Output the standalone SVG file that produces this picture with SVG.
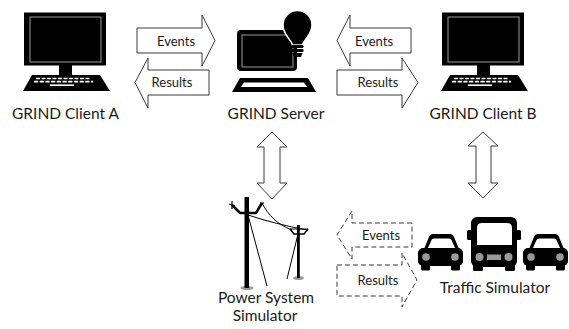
<svg xmlns="http://www.w3.org/2000/svg" width="569" height="329" viewBox="0 0 569 329">
  <style>
    .label { font-family: Lato, "Liberation Sans", sans-serif; font-size: 15.5px; fill: #1a1a1a; text-anchor: middle; }
    .tag { font-family: Lato, "Liberation Sans", sans-serif; font-size: 13px; fill: #1a1a1a; text-anchor: middle; }
    .arrow { fill: #fff; stroke: #3a3a3a; stroke-width: 1; stroke-linejoin: miter; }
    .dashed { fill: #fff; stroke: #3a3a3a; stroke-width: 1; stroke-dasharray: 5 3; }
    .ink { fill: #000; }
    .lamp { fill: #999; }
    .keys { stroke: #fff; stroke-width: 1.6; fill: none; }
    .wire { stroke: #000; fill: none; }
  </style>
  <defs>
    <!-- desktop computer icon: monitor, stand, keyboard -->
    <g id="desktop">
      <rect class="ink" x="24" y="12.5" width="82" height="53"/>
      <rect x="30" y="17" width="71" height="45" fill="#000" stroke="#9a9a9a" stroke-width="1"/>
      <rect class="ink" x="59" y="65" width="13" height="10"/>
      <polygon class="ink" points="32,75 100,75 110,91 23,91"/>
      <line class="keys" x1="36" y1="78.5" x2="90" y2="78.5" stroke-dasharray="4 1.5"/>
      <line class="keys" x1="34" y1="81.6" x2="93" y2="81.6" stroke-dasharray="4.2 1.5"/>
      <line class="keys" x1="50" y1="85.2" x2="74" y2="85.2"/>
    </g>
    <!-- small car silhouette -->
    <g id="car">
      <path class="ink" d="M424,249 L429,237 Q430,234 433,234 L450,234 Q453,234 454,237 L459,249 Z"/>
      <path fill="#fff" d="M427.5,249 L431.5,240 Q432.2,238.5 434,238.5 L449,238.5 Q450.8,238.5 451.5,240 L455.5,249 Z"/>
      <rect class="ink" x="418" y="248" width="45" height="18" rx="5"/>
      <rect class="ink" x="421" y="264" width="9" height="6.5" rx="1.5"/>
      <rect class="ink" x="451" y="264" width="9" height="6.5" rx="1.5"/>
      <circle class="lamp" cx="426" cy="257" r="3.8"/>
      <circle class="lamp" cx="455" cy="257" r="3.8"/>
    </g>
  </defs>

  <g id="client-a">
    <use href="#desktop"/>
    <text class="label" x="65.5" y="119">GRIND Client A</text>
  </g>

  <g id="client-b">
    <use href="#desktop" transform="translate(418,0)"/>
    <text class="label" x="483" y="119">GRIND Client B</text>
  </g>

  <g id="server">
    <!-- laptop screen -->
    <rect class="ink" x="237" y="30" width="60" height="41" rx="4"/>
    <rect x="242" y="35" width="51" height="32" fill="#000" stroke="#9a9a9a" stroke-width="1"/>
    <!-- laptop base -->
    <polygon class="ink" points="240,78 308,78 316,92 232,92"/>
    <polygon fill="#fff" points="244,82.5 304,82.5 307,87 241,87"/>
    <!-- light bulb -->
    <path class="ink" stroke="#fff" stroke-width="1.5" d="M292.5,45 C291,39 283,35 283,25 A14.5,14.5 0 0 1 312,25 C312,35 304,39 302.5,45 Z"/>
    <rect class="ink" x="291.5" y="45" width="12" height="3" rx="1"/>
    <rect class="ink" x="291.5" y="49" width="12" height="3" rx="1"/>
    <path class="ink" d="M292.5,53 L302.5,53 L301,57 L294,57 Z"/>
    <text class="label" x="276" y="119">GRIND Server</text>
  </g>

  <g id="power-sim">
    <!-- main pole -->
    <ellipse class="lamp" cx="247" cy="288" rx="6.5" ry="2"/>
    <rect class="ink" x="244.5" y="197" width="4.5" height="91"/>
    <polyline class="wire" stroke-width="2.5" points="232,205 240,213 256,213 262,203"/>
    <path class="wire" stroke-width="1.2" d="M229,204 L235,206 M232,201 L232,209 M260,203 L264,203"/>
    <!-- second pole -->
    <ellipse class="lamp" cx="298.5" cy="278" rx="5.5" ry="2"/>
    <rect class="ink" x="297" y="225" width="2.8" height="53"/>
    <polyline class="wire" stroke-width="1.6" points="290,229 294,234 304,234 308,229"/>
    <line class="wire" stroke-width="1" x1="290" y1="229" x2="308" y2="229"/>
    <!-- conductors and guy wires -->
    <path class="wire" stroke-width="1" d="M262,203 C268,215 278,225 292,230"/>
    <path class="wire" stroke-width="1" d="M248,215 Q275,224 307,230"/>
    <line class="wire" stroke-width="1" x1="248" y1="215" x2="267" y2="286"/>
    <line class="wire" stroke-width="1" x1="298" y1="234" x2="287" y2="279"/>
    <text class="label" x="266" y="303">Power System</text>
    <text class="label" x="265" y="321">Simulator</text>
  </g>

  <g id="traffic-sim">
    <use href="#car"/>
    <use href="#car" transform="translate(105,0)"/>
    <!-- bus -->
    <rect class="ink" x="467" y="230" width="5" height="10" rx="1.5"/>
    <rect class="ink" x="516" y="230" width="5" height="10" rx="1.5"/>
    <rect class="ink" x="471" y="217" width="46" height="50" rx="6"/>
    <path fill="#fff" d="M477,245 L477,228 Q477,223 482,223 L507,223 Q512,223 512,228 L512,245 Z"/>
    <rect class="ink" x="473" y="264" width="10" height="7" rx="1.5"/>
    <rect class="ink" x="505" y="264" width="10" height="7" rx="1.5"/>
    <circle class="lamp" cx="479.5" cy="257" r="4"/>
    <circle class="lamp" cx="508.5" cy="257" r="4"/>
    <rect class="lamp" x="487" y="254.5" width="14" height="5.5"/>
    <text class="label" x="495" y="293">Traffic Simulator</text>
  </g>

  <g id="connectors">
    <!-- Client A <-> Server -->
    <polygon class="arrow" points="137,28 202,28 202,15 215,40.5 202,66 202,53 137,53"/>
    <text class="tag" x="176" y="46">Events</text>
    <polygon class="arrow" points="209,70 148,70 148,58 135,82.5 148,108 148,95 209,95"/>
    <text class="tag" x="172" y="87">Results</text>
    <!-- Client B <-> Server -->
    <polygon class="arrow" points="411,28 350,28 350,15 337,40.5 350,66 350,53 411,53"/>
    <text class="tag" x="374" y="46">Events</text>
    <polygon class="arrow" points="337,70 402,70 402,58 418,82.5 402,108 402,95 337,95"/>
    <text class="tag" x="378" y="87">Results</text>
    <!-- Server <-> Power System Simulator -->
    <polygon class="arrow" points="272,132 257,147 264,147 264,183 257,183 272,199 287,183 280,183 280,147 287,147"/>
    <!-- Client B <-> Traffic Simulator -->
    <polygon class="arrow" points="483,132 468,146 476,146 476,183 468,183 483,198 498,183 491,183 491,146 498,146"/>
    <!-- co-simulation exchange -->
    <polygon class="dashed" points="412,223 352,223 352,211 337,235 352,259 352,247 412,247"/>
    <text class="tag" x="381" y="240">Events</text>
    <polygon class="dashed" points="337,265 402,265 402,253 417,280 402,307 402,296 337,296"/>
    <text class="tag" x="378" y="285">Results</text>
  </g>
</svg>
